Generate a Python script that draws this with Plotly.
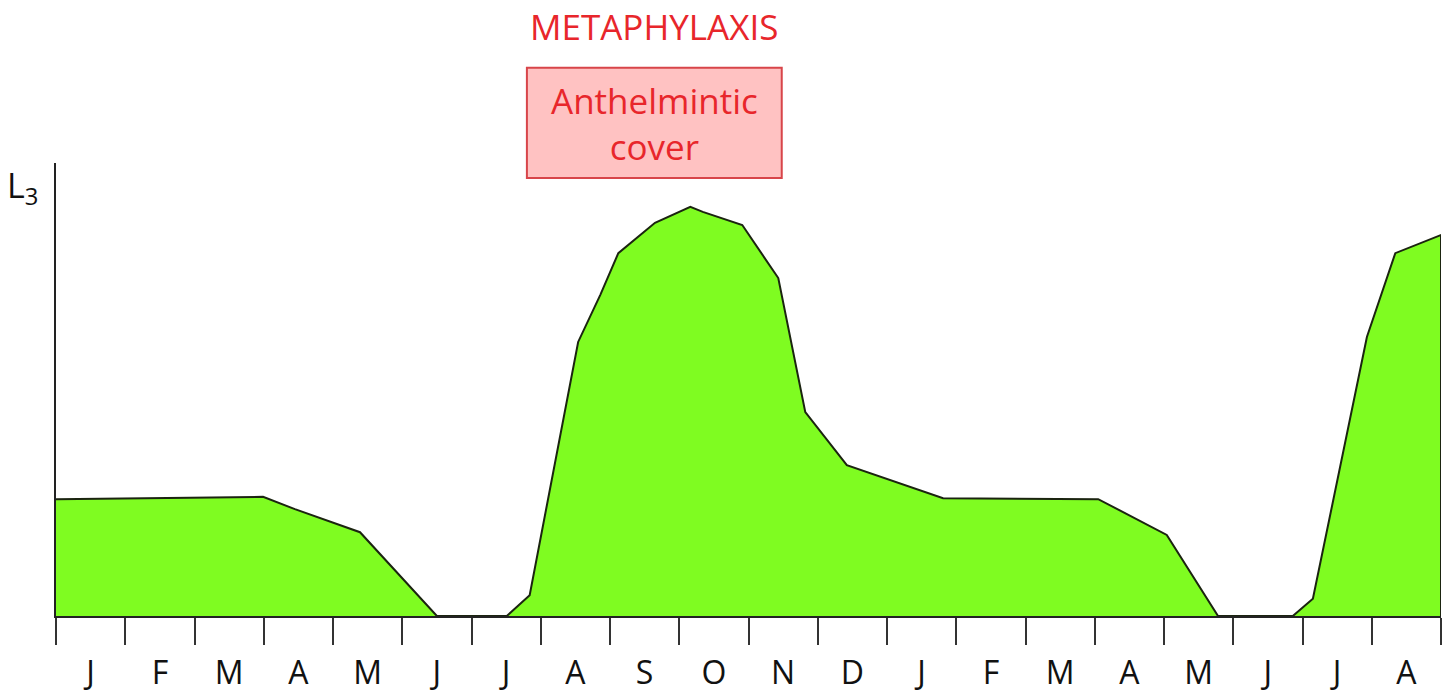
"""L3 pasture larvae over 20 months with the metaphylaxis cover window."""

import plotly.graph_objects as go

# months shown along the x axis (two seasons)
months = ["J", "F", "M", "A", "M", "J", "J", "A", "S", "O",
          "N", "D", "J", "F", "M", "A", "M", "J", "J", "A"]

# L3 level (relative, 0-100) against time in months from the start
time_m = [0.0, 2.99, 3.45, 4.39, 5.50, 6.51, 6.84, 7.54, 7.86, 8.12,
          8.65, 9.16, 9.34, 9.91, 10.43, 10.82, 11.42, 12.81, 15.05, 16.04,
          16.78, 17.86, 18.15, 18.93, 19.34, 20.0, 20.0]
l3_level = [25.8, 26.3, 23.6, 18.5, 0.0, 0.0, 4.6, 60.5, 70.9, 80.1,
            86.8, 90.3, 89.2, 86.3, 74.6, 45.0, 33.3, 26.0, 25.8, 17.9,
            0.0, 0.0, 3.8, 61.6, 80.1, 84.1, 0.0]

# anthelmintic cover window (months)
cover_start, cover_end = 6.80, 10.48

RED = "#e8262b"
FONT = "Open Sans"

fig = go.Figure()

fig.add_trace(
    go.Scatter(
        x=time_m,
        y=l3_level,
        mode="lines",
        fill="tozeroy",
        fillcolor="#7ffc21",
        line=dict(color="#1b2410", width=2),
        hoverinfo="skip",
        showlegend=False,
    )
)

# box for the treatment window, in paper coords so it can sit above the plot
n_months = len(months)
mid = (cover_start + cover_end) / 2 / n_months
fig.add_shape(
    type="rect",
    xref="paper",
    yref="paper",
    x0=cover_start / n_months,
    x1=cover_end / n_months,
    y0=0.967,
    y1=1.21,
    fillcolor="#ffc2c2",
    line=dict(color="#d8454a", width=2),
    layer="above",
)

fig.add_annotation(
    xref="paper", yref="paper",
    x=mid, y=1.088, yanchor="middle",
    text="Anthelmintic<br>cover",
    showarrow=False,
    font=dict(family=FONT, size=35, color=RED),
    align="center",
)
fig.add_annotation(
    xref="paper", yref="paper",
    x=mid, y=1.302, yanchor="middle",
    text="METAPHYLAXIS",
    showarrow=False,
    font=dict(family=FONT, size=35, color=RED),
)
fig.add_annotation(
    xref="paper", yref="paper",
    x=-0.037, y=0.947, xanchor="left", yanchor="middle",
    text="L<sub>3</sub>",
    showarrow=False,
    font=dict(family=FONT, size=34, color="#111"),
)

fig.update_xaxes(
    range=[0, n_months],
    tickmode="array",
    tickvals=[i + 0.5 for i in range(n_months)],
    ticktext=months,
    ticks="outside",
    ticklen=27,
    tickcolor="rgba(0,0,0,0)",
    tickfont=dict(family=FONT, size=32, color="#111"),
    ticklabelstandoff=1,
    minor=dict(
        tickmode="linear",
        tick0=0,
        dtick=1,
        ticks="outside",
        ticklen=27,
        tickwidth=2,
        tickcolor="#333",
    ),
    showline=True,
    linecolor="#222",
    linewidth=2,
    showgrid=False,
    zeroline=False,
    automargin=False,
    fixedrange=True,
)
fig.update_yaxes(
    range=[0, 100],
    showticklabels=False,
    ticks="",
    showline=True,
    linecolor="#222",
    linewidth=2,
    showgrid=False,
    zeroline=False,
    automargin=False,
    fixedrange=True,
)

fig.update_layout(
    width=1452,
    height=694,
    margin=dict(l=56, r=11, t=163, b=78),
    plot_bgcolor="white",
    paper_bgcolor="white",
)

# drop the default page margin so the figure sits at the window origin
fig.write_html(
    "out.html",
    config={"displayModeBar": False},
    post_script="document.body.style.margin='0';document.body.style.overflow='hidden';",
)
